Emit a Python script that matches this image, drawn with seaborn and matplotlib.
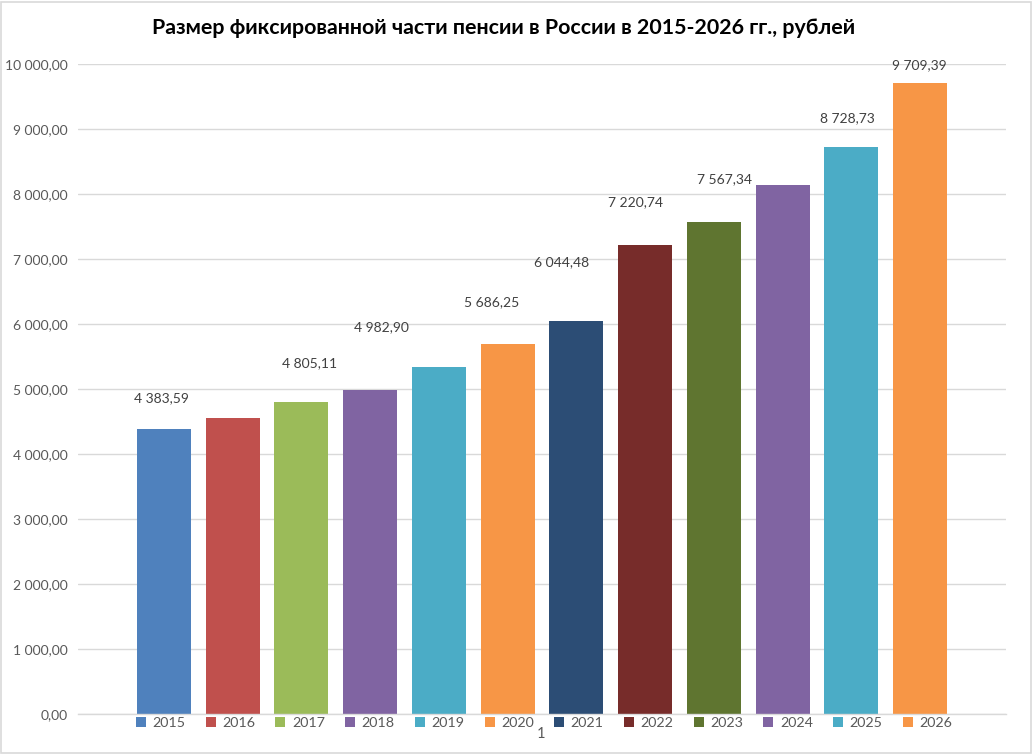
import matplotlib
matplotlib.use("Agg")
import matplotlib.pyplot as plt
import seaborn as sns
import pandas as pd
from matplotlib.patches import Patch, Rectangle
from matplotlib.ticker import FuncFormatter, MultipleLocator

years = ["2015", "2016", "2017", "2018", "2019", "2020",
         "2021", "2022", "2023", "2024", "2025", "2026"]
values = [4383.59, 4558.93, 4805.11, 4982.90, 5334.19, 5686.25,
          6044.48, 7220.74, 7567.34, 8134.88, 8728.73, 9709.39]
show_label = [True, False, True, True, False, True,
              True, True, True, False, True, True]
colors = ["#4F81BD", "#C0504D", "#9BBB59", "#8064A2", "#4BACC6", "#F79646",
          "#2C4D75", "#772C2A", "#5F7530", "#8064A2", "#4BACC6", "#F79646"]
title = "Размер фиксированной части пенсии в России в 2015-2026 гг., рублей"
category_label = "1"

# label offsets in pixels (dx, dy from bar-top center), as placed in the original
label_offsets = [(-2, 31), (0, 30), (8, 39), (11, 63), (0, 30), (-16, 42),
                 (-15, 59), (-10, 42), (11, 43), (0, 30), (-4, 28), (-1, 18)]

sns.set_theme(style="white")
plt.rcParams["font.family"] = ["Lato", "DejaVu Sans"]

def ru_fmt(v, pos=None):
    s = f"{v:,.2f}"
    return s.replace(",", " ").replace(".", ",")

df = pd.DataFrame({"year": years, "value": values})

fig = plt.figure(figsize=(10.33, 7.54), dpi=100)
ax = fig.add_axes([78/1033, 1-714/754, (1006-78)/1033, (714-64)/754])

sns.barplot(data=df, x="year", y="value", hue="year", palette=colors,
            width=0.785, legend=False, ax=ax, saturation=1, linewidth=0)

ax.set_xlim(-1.25, 12.25)
ax.set_ylim(0, 10000)
ax.yaxis.set_major_locator(MultipleLocator(1000))
ax.yaxis.set_major_formatter(FuncFormatter(ru_fmt))
ax.grid(axis="y", color="#d9d9d9", linewidth=1)
ax.set_axisbelow(True)
for s in ["top", "right", "left"]:
    ax.spines[s].set_visible(False)
ax.spines["bottom"].set_color("#d9d9d9")
ax.spines["bottom"].set_linewidth(1)
ax.set_xticks([])
ax.set_xlabel("")
ax.set_ylabel("")
ax.tick_params(axis="y", length=0, pad=7.5, labelsize=10, labelcolor="#595959")

for i, (v, sh) in enumerate(zip(values, show_label)):
    if sh:
        dx, dy = label_offsets[i]
        ax.annotate(ru_fmt(v), xy=(i, v), xytext=(dx, dy), textcoords="offset pixels",
                    ha="center", va="center", fontsize=10, color="#404040")

handles = [Patch(facecolor=c, edgecolor="none", label=y) for y, c in zip(years, colors)]
fig.legend(handles=handles, loc="center", bbox_to_anchor=(544/1033, 1-723/754),
           ncol=12, frameon=False, fontsize=10.3, handlelength=0.7, handleheight=0.7,
           handletextpad=0.45, columnspacing=1.42, labelcolor="#595959",
           borderpad=0, borderaxespad=0)

fig.text(541/1033, 1-734/754, category_label, ha="center", va="center",
         fontsize=10.5, color="#595959")

fig.text(504/1033, 1-28/754, title, ha="center", va="center",
         fontsize=15.4, fontweight="bold", color="black")

fig.patches.append(Rectangle((0.0005, 0.001), 0.998, 0.997, transform=fig.transFigure,
                             fill=False, edgecolor="#d9d9d9", linewidth=1.2))

fig.savefig("out.png", dpi=100, facecolor="white")
